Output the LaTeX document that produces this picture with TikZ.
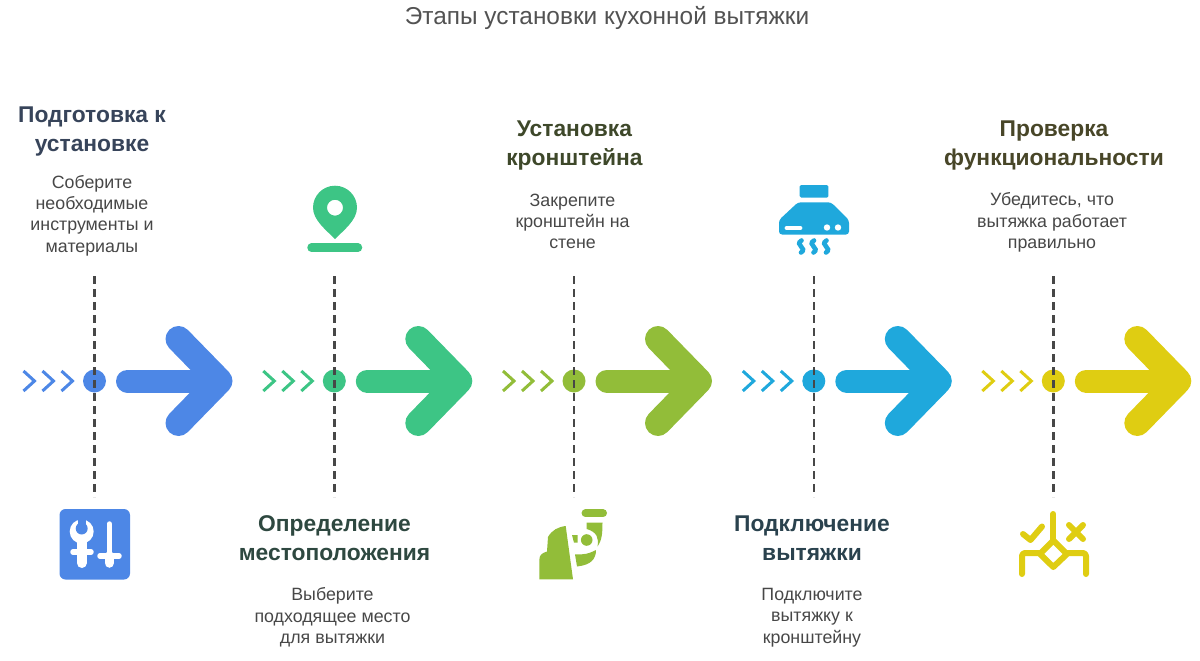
\documentclass[tikz,border=0pt]{standalone}
\usepackage{xcolor}
\usepackage{fontspec}
\setmainfont{Liberation Sans}
\usetikzlibrary{positioning,calc}

\definecolor{stepblue}{HTML}{4D87E6}
\definecolor{stepgreen}{HTML}{3DC585}
\definecolor{stepolive}{HTML}{92BD39}
\definecolor{stepcyan}{HTML}{1FA8DC}
\definecolor{stepyellow}{HTML}{DFCD12}

\tikzset{
    stagetitle/.style={font=\fontsize{22.8}{29}\selectfont\bfseries, align=center, inner sep=0pt},
    stagetext/.style={font=\fontsize{17.8}{21.3}\selectfont, text=black!72, align=center, inner sep=0pt},
    stagedot/.style={circle, minimum size=23pt, inner sep=0pt},
    stagedash/.style={line width=2.6pt, black!72, dash pattern=on 8pt off 5pt},
    chevron/.style={line width=3pt, line join=miter},
    iconline/.style={line width=6pt, line cap=round, line join=round}
}

% name, x of the dashed line, colour
\newcommand{\stagemark}[3]{
    \begin{scope}[shift={(#2,0)}]
        \draw [chevron, #3] (-71,371) -- (-60,381) -- (-71,391);
        \draw [chevron, #3] (-52,371) -- (-41,381) -- (-52,391);
        \draw [chevron, #3] (-33,371) -- (-22,381) -- (-33,391);
        \node [stagedot, fill=#3] (#1dot) at (0,381) {};
        \coordinate (#1top) at (0,276);
        \coordinate (#1bot) at (0,497);
        \draw [stagedash] (#1top) -- (#1bot);
        \draw [#3, line width=23pt, line cap=round] (33,381) -- (124,381);
        \draw [#3, line width=26pt, line cap=round, line join=round] (84,339) -- (125,381) -- (84,423);
    \end{scope}
}

\begin{document}
\begin{tikzpicture}[x=1pt, y=-1pt]
    \useasboundingbox (0,0) rectangle (1200,661);

    \node [font=\fontsize{24.4}{28}\selectfont, text=black!68] (title) at (607,18) {Этапы установки кухонной вытяжки};

    \stagemark{prep}{94.5}{stepblue}
    \stagemark{place}{334.3}{stepgreen}
    \stagemark{mount}{574}{stepolive}
    \stagemark{hood}{813.8}{stepcyan}
    \stagemark{check}{1053.3}{stepyellow}

    % stage texts
    \node [stagetitle, text={rgb,255:red,55;green,68;blue,90}] (preptitle) at (92,132) {Подготовка к\\установке};
    \node [stagetext] (preptext) at (92,215.5) {Соберите\\необходимые\\инструменты и\\материалы};

    \node [stagetitle, text={rgb,255:red,46;green,72;blue,64}] (placetitle) at (334.5,538) {Определение\\местоположения};
    \node [stagetext] (placetext) at (332.5,617.5) {Выберите\\подходящее место\\для вытяжки};

    \node [stagetitle, text={rgb,255:red,62;green,72;blue,42}] (mounttitle) at (574.5,146) {Установка\\кронштейна};
    \node [stagetext] (mounttext) at (572.5,221.5) {Закрепите\\кронштейн на\\стене};

    \node [stagetitle, text={rgb,255:red,42;green,66;blue,78}] (hoodtitle) at (812,538) {Подключение\\вытяжки};
    \node [stagetext] (hoodtext) at (812,617.5) {Подключите\\вытяжку к\\кронштейну};

    \node [stagetitle, text={rgb,255:red,72;green,70;blue,40}] (checktitle) at (1054,146) {Проверка\\функциональности};
    \node [stagetext] (checktext) at (1052,222.5) {Убедитесь, что\\вытяжка работает\\правильно};

    % tools icon
    \fill [stepblue, rounded corners=6pt] (59.5,509) rectangle (130,579.5);
    \fill [white] (81.7,531.5) circle (12);
    \fill [stepblue] (81.7,528.5) circle (6);
    \fill [stepblue] (77.5,517) rectangle (85.9,528);
    \draw [white, line width=5.5pt, line cap=round] (73,552) -- (91,552);
    \draw [white, line width=10pt, line cap=round] (81.7,540) -- (81.7,563);
    \draw [white, line width=5.5pt, line cap=round] (109.3,524) -- (109.3,555);
    \draw [white, line width=5.5pt, line cap=round] (100,556) -- (119,556);
    \draw [white, line width=9.5pt, line cap=round] (109.3,556) -- (109.3,563);

    % location icon
    \fill [stepgreen, even odd rule] (335,239) .. controls (326,230) and (313,220) .. (313,207.7)
        arc [start angle=180, end angle=0, x radius=22, y radius=-22]
        .. controls (357,220) and (344,230) .. (335,239) -- cycle
        (335,207.7) circle (8);
    \draw [stepgreen, line width=8.5pt, line cap=round] (311.5,247.7) -- (358,247.7);

    % bracket icon
    \fill [stepolive] (539.3,579.3) -- (539.3,560) .. controls (539.3,554) and (543,553) .. (547,551.5)
        -- (548,537) .. controls (552,530) and (558,527) .. (565.7,526) -- (573,579.3) -- cycle;
    \draw [stepolive, line width=8pt, line cap=round] (585.5,513.3) -- (603,513.3);
    \fill [stepolive] (586.7,540) circle (5.8);
    \fill [stepolive] (572,535) -- (577.5,535) -- (577.5,542.7) -- (574,542.7) -- cycle;
    \fill [stepolive] (586.7,522.7) -- (602.5,522.7) .. controls (602.5,533) and (602,540) .. (597.5,546.5)
        .. controls (599,538) and (597,532) .. (586.7,529) -- cycle;
    \fill [stepolive] (575,554.3) -- (582,554.3) .. controls (588,554) and (592,552) .. (596,550)
        .. controls (596,559) and (591,565) .. (577,566.5) -- cycle;

    % hood icon
    \fill [stepcyan, rounded corners=1.5pt] (799.7,185) rectangle (828.3,197.7);
    \fill [stepcyan, rounded corners=3pt] (798,202.3) -- (831,202.3) -- (849,220) -- (849,234.5) -- (779,234.5) -- (779,220) -- cycle;
    \draw [white, line width=4.8pt, line cap=round] (787,228) -- (800,228);
    \fill [white] (827,227.5) circle (3.2);
    \fill [white] (838,227.5) circle (3.2);
    \draw [stepcyan, line width=4.6pt, line cap=round] (801.5,240.5) .. controls (794,245) and (808,248) .. (801,252.5);
    \draw [stepcyan, line width=4.6pt, line cap=round] (814,240.5) .. controls (806.5,245) and (820.5,248) .. (813.5,252.5);
    \draw [stepcyan, line width=4.6pt, line cap=round] (826.5,240.5) .. controls (819,245) and (833,248) .. (826,252.5);

    % check icon
    \draw [iconline, stepyellow] (1053.3,514) -- (1053.3,540);
    \draw [iconline, stepyellow] (1053.3,540.5) -- (1067,554) -- (1053.3,567) -- (1040,554) -- cycle;
    \draw [iconline, stepyellow, rounded corners=3pt] (1040,553) -- (1022,553) -- (1022,574);
    \draw [iconline, stepyellow, rounded corners=3pt] (1067,553) -- (1086,553) -- (1086,574);
    \draw [iconline, stepyellow] (1023,534) -- (1030.5,540) -- (1042,526.5);
    \draw [iconline, stepyellow] (1069,525) -- (1083,539);
    \draw [iconline, stepyellow] (1083,525) -- (1069,539);
\end{tikzpicture}
\end{document}
